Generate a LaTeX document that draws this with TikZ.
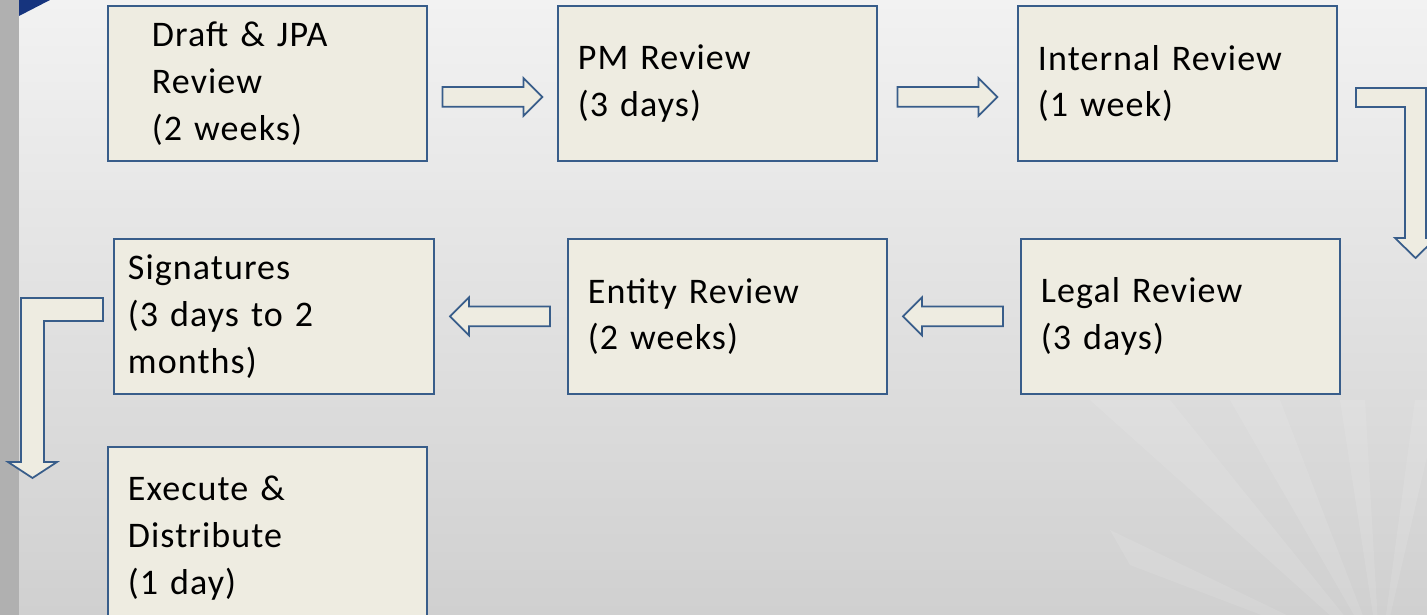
\documentclass[tikz,border=0pt]{standalone}
\usepackage{fontspec}
\setmainfont{Carlito}[LetterSpace=3]
\usetikzlibrary{shapes.arrows, calc}
\definecolor{boxfill}{RGB}{238,236,225}
\definecolor{boxline}{RGB}{56,93,138}
\definecolor{navy}{RGB}{22,52,126}
\definecolor{bgtop}{RGB}{242,242,242}
\definecolor{bgbottom}{RGB}{208,208,208}
\definecolor{strip}{RGB}{176,176,176}

\begin{document}
\begin{tikzpicture}[x=0.02cm, y=-0.02cm,
  stage/.style={draw=boxline, line width=1.1pt, fill=boxfill, anchor=north west,
    minimum width=6.38cm, minimum height=3.1cm, inner xsep=0.4cm, text width=5.58cm,
    align=left, font=\fontsize{20.5}{26.6}\selectfont},
  flow/.style={single arrow, draw=boxline, line width=1pt, fill=boxfill,
    inner xsep=0pt, inner ysep=0.18cm, minimum height=2cm,
    single arrow head extend=0.18cm, single arrow tip angle=90},
  bentflow/.style={draw=boxline, line width=1pt, fill=boxfill, line join=miter}]
  \clip (0,0) rectangle (1427,615);

  % Background
  \shade[top color=bgtop, bottom color=bgbottom] (0,0) rectangle (1427,615);
  \foreach \a/\b in {1090/1170, 1230/1280, 1340/1365, 1415/1440}
    \fill[white, opacity=0.1] (1380,660) -- (\a,400) -- (\b,400) -- cycle;
  \fill[white, opacity=0.1] (1380,660) -- (1110,530) -- (1130,565) -- cycle;
  \fill[strip] (0,0) rectangle (19,615);
  \fill[navy] (19,0) -- (50,0) -- (19,16) -- cycle;

  % Stages
  \node[stage, inner xsep=0.88cm, text width=4.62cm] (draft) at (107,5) {Draft \& JPA\\Review\\(2 weeks)};
  \node[stage] (pm) at (557,5) {PM Review\\(3 days)};
  \node[stage] (internal) at (1017,5) {Internal Review\\(1 week)};
  \node[stage] (legal) at (1020,238) {Legal Review\\(3 days)};
  \node[stage] (entity) at (567,238) {Entity Review\\(2 weeks)};
  \node[stage, inner xsep=0.28cm, text width=5.84cm] (sign) at (113,238) {Signatures\\(3 days to 2\\months)};
  \node[stage, minimum height=3.64cm] (exec) at (107,446) {Execute \&\\Distribute\\(1 day)};

  % Block arrows between stages
  \node[flow] (a1) at ($(draft.east)!0.5!(pm.west)+(-5,13.5)$) {};
  \node[flow] (a2) at ($(pm.east)!0.5!(internal.west)+(-5,13.5)$) {};
  \node[flow, shape border rotate=180] (a3) at ($(entity.east)!0.5!(legal.west)+(4,0)$) {};
  \node[flow, shape border rotate=180] (a4) at ($(sign.east)!0.5!(entity.west)+(4,0)$) {};

  % Bent arrows
  \draw[bentflow] (1356,88) -- (1426,88) -- (1426,238) -- (1436,238) -- (1415.5,258)
    -- (1395,238) -- (1405,238) -- (1405,107) -- (1356,107) -- cycle;
  \draw[bentflow] (103,298) -- (21,298) -- (21,462) -- (8,462) -- (32.5,478)
    -- (57,462) -- (44,462) -- (44,321) -- (103,321) -- cycle;
\end{tikzpicture}
\end{document}
